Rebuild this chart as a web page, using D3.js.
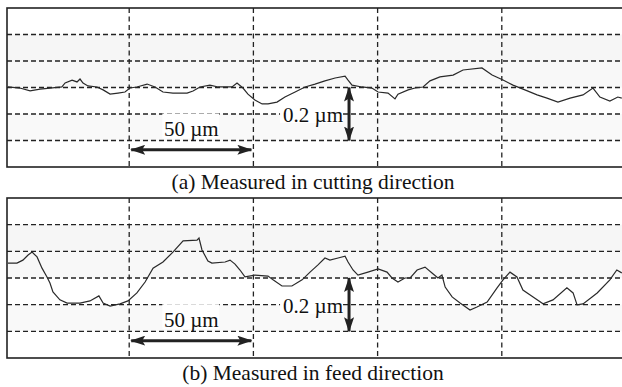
<!DOCTYPE html>
<html>
<head>
<meta charset="utf-8">
<script src="https://cdn.jsdelivr.net/npm/d3@7"></script>
</head>
<body style="margin:0">
<script>
// ---------- data (x in µm, height in µm) ----------
const xGrid = [50, 100, 150, 200];
const yGrid = [-0.2, -0.1, 0, 0.1, 0.2];
const captions = ["(a) Measured in cutting direction", "(b) Measured in feed direction"];
const scaleBarX = [50, 100];          // 50 µm bar
const scaleBarY = [-0.2, 0];          // 0.2 µm bar
const scaleBarYPos = 138.5;           // µm position of vertical bar
const labelX = "50 µm";
const labelY = "0.2 µm";

const cutX = [1.2, 6.0, 10.1, 14.1, 18.1, 22.9, 24.2, 27.0, 29.0, 30.2, 31.4, 33.4, 37.0, 39.5, 42.3, 45.5, 48.3, 50.3, 53.1, 57.2, 60.4, 63.6, 67.6, 73.3, 75.7, 78.5, 82.5, 85.8, 91.4, 93.4, 95.8, 97.8, 100.6, 103.5, 105.9, 109.5, 112.7, 116.8, 120.8, 124.8, 128.8, 132.9, 136.9, 138.1, 139.7, 143.7, 147.7, 150.2, 154.2, 157.0, 158.2, 162.3, 165.1, 168.3, 171.1, 175.1, 180.4, 184.4, 192.0, 196.1, 200.5, 204.5, 209.3, 214.2, 218.2, 222.6, 227.5, 232.7, 236.7, 239.5, 243.5, 246.7, 248.3];
const cutY = [0.002, -0.002, -0.013, -0.006, -0.002, 0.002, 0.017, 0.028, 0.021, 0.032, 0.017, 0.006, 0.002, -0.009, -0.025, -0.021, -0.017, -0.002, 0.002, 0.013, 0.002, -0.017, -0.021, -0.021, -0.013, 0.002, 0.009, 0.002, 0.002, 0.017, -0.002, -0.025, -0.047, -0.062, -0.062, -0.055, -0.036, -0.017, 0.002, 0.013, 0.025, 0.036, 0.043, 0.028, 0.009, 0.002, -0.002, -0.017, -0.021, -0.043, -0.025, -0.009, -0.002, 0.002, 0.025, 0.040, 0.047, 0.066, 0.074, 0.047, 0.028, 0.009, -0.009, -0.028, -0.040, -0.055, -0.040, -0.028, -0.002, -0.036, -0.051, -0.036, -0.040];

const feedX = [1.2, 4.8, 7.2, 9.3, 10.9, 12.9, 14.9, 16.9, 18.1, 19.3, 22.1, 25.0, 30.2, 34.2, 37.8, 39.5, 42.3, 46.3, 49.5, 53.1, 56.4, 59.6, 63.6, 67.6, 71.7, 77.3, 78.1, 79.3, 81.7, 83.3, 88.6, 90.6, 92.6, 94.6, 96.6, 100.6, 105.9, 107.9, 111.5, 115.5, 119.6, 122.8, 126.0, 128.8, 130.8, 134.1, 136.9, 138.1, 140.1, 142.1, 146.1, 150.2, 153.8, 155.8, 158.2, 161.0, 163.1, 165.9, 169.1, 171.9, 174.3, 175.9, 177.2, 180.0, 183.2, 187.2, 190.0, 194.1, 198.1, 200.5, 203.3, 206.1, 208.5, 212.6, 216.6, 220.6, 226.2, 228.7, 230.3, 232.7, 238.4, 243.5, 246.3, 248.3];
const feedY = [0.056, 0.056, 0.067, 0.086, 0.097, 0.079, 0.037, 0.004, -0.019, -0.052, -0.082, -0.094, -0.094, -0.086, -0.067, -0.094, -0.105, -0.097, -0.086, -0.056, -0.015, 0.037, 0.060, 0.097, 0.139, 0.142, 0.150, 0.105, 0.064, 0.056, 0.060, 0.067, 0.052, 0.030, 0.004, 0.011, 0.007, -0.007, -0.030, -0.030, -0.007, 0.022, 0.049, 0.075, 0.067, 0.075, 0.082, 0.060, 0.030, 0.011, 0.022, 0.034, 0.022, 0.000, -0.015, 0.000, 0.000, 0.030, 0.041, 0.019, 0.000, 0.011, -0.034, -0.071, -0.094, -0.120, -0.109, -0.090, -0.037, -0.007, 0.022, 0.004, -0.045, -0.071, -0.097, -0.082, -0.037, -0.056, -0.101, -0.097, -0.056, -0.007, 0.030, 0.019];

// ---------- layout ----------
const W = 622, H = 387;
const frameLeft = 7, frameRight = 640;
const panels = [
  { top: 8, bottom: 167, xs: cutX, ys: cutY, caption: captions[0], capY: 189 },
  { top: 198, bottom: 358, xs: feedX, ys: feedY, caption: captions[1], capY: 380 }
];

const svg = d3.select("body").append("svg").attr("width", W).attr("height", H)
  .attr("font-family", "Liberation Serif");
svg.append("rect").attr("width", W).attr("height", H).attr("fill", "#fff");

const defs = svg.append("defs");
defs.append("marker").attr("id", "ah")
  .attr("viewBox", "0 0 15 10").attr("refX", 14).attr("refY", 5)
  .attr("markerWidth", 15).attr("markerHeight", 10)
  .attr("markerUnits", "userSpaceOnUse").attr("orient", "auto-start-reverse")
  .append("path").attr("d", "M0,0 L15,5 L0,10 L3,5 Z").attr("fill", "#222");

const x = d3.scaleLinear().domain([0, 250]).range([5, 626]);

const texts = [];

panels.forEach((p, i) => {
  const y = d3.scaleLinear().domain([-0.3, 0.3]).range([p.bottom, p.top]);
  const g = svg.append("g");

  const bands = [[0.1, 0.2, "#f6f6f6"], [0, 0.1, "#f8f8f8"], [-0.2, -0.1, "#f9f9f9"]];
  g.selectAll("rect.band").data(bands).join("rect").attr("class", "band")
    .attr("x", frameLeft).attr("width", W - frameLeft)
    .attr("y", d => y(d[1])).attr("height", d => y(d[0]) - y(d[1]))
    .attr("fill", d => d[2]);

  g.selectAll("line.hg").data(yGrid).join("line").attr("class", "hg")
    .attr("x1", frameLeft).attr("x2", W)
    .attr("y1", d => y(d)).attr("y2", d => y(d))
    .attr("stroke", "#222").attr("stroke-width", 1.3).attr("stroke-dasharray", "5,3");

  g.selectAll("line.vg").data(xGrid).join("line").attr("class", "vg")
    .attr("x1", d => x(d)).attr("x2", d => x(d))
    .attr("y1", p.top).attr("y2", p.bottom)
    .attr("stroke", "#222").attr("stroke-width", 1.3).attr("stroke-dasharray", "5,3.5");

  const clipId = "clip" + i;
  defs.append("clipPath").attr("id", clipId).append("rect")
    .attr("x", frameLeft).attr("y", p.top).attr("width", W - frameLeft).attr("height", p.bottom - p.top);
  const pts = p.xs.map((v, k) => [v, p.ys[k]]);
  g.append("path").datum(pts)
    .attr("clip-path", `url(#${clipId})`)
    .attr("d", d3.line().x(d => x(d[0])).y(d => y(d[1])))
    .attr("fill", "none").attr("stroke", "#2a2a2a").attr("stroke-width", 1.2);

  g.append("rect").attr("x", frameLeft).attr("y", p.top)
    .attr("width", frameRight - frameLeft).attr("height", p.bottom - p.top)
    .attr("fill", "none").attr("stroke", "#222").attr("stroke-width", 1.6);

  const lx = x((scaleBarX[0] + scaleBarX[1]) / 2);
  g.append("rect").attr("x", lx - 29).attr("y", y(-0.1) - 0.5).attr("width", 57).attr("height", 25).attr("fill", "#fff");
  texts.push({ t: labelX, x: lx, y: y(-0.1) + 22, a: "middle", s: 21 });

  g.append("line")
    .attr("x1", x(scaleBarX[0]) + 2).attr("x2", x(scaleBarX[1]) - 2)
    .attr("y1", y(-0.235)).attr("y2", y(-0.235))
    .attr("stroke", "#222").attr("stroke-width", 3)
    .attr("marker-start", "url(#ah)").attr("marker-end", "url(#ah)");

  const vx = x(scaleBarYPos);
  g.append("rect").attr("x", vx - 69).attr("y", y(-0.1) - 11).attr("width", 63).attr("height", 20).attr("fill", "#fff");
  texts.push({ t: labelY, x: vx - 6, y: y(-0.1) + 8, a: "end", s: 21 });

  g.append("line")
    .attr("x1", vx).attr("x2", vx)
    .attr("y1", y(scaleBarY[1])).attr("y2", y(scaleBarY[0]))
    .attr("stroke", "#222").attr("stroke-width", 3)
    .attr("marker-start", "url(#ah)").attr("marker-end", "url(#ah)");

  texts.push({ t: p.caption, x: 313, y: p.capY, a: "middle", s: 21.5 });
});

svg.selectAll("text.lbl").data(texts).join("text").attr("class", "lbl")
  .attr("x", d => d.x).attr("y", d => d.y)
  .attr("text-anchor", d => d.a)
  .attr("font-family", "Liberation Serif")
  .style("font-family", '"Liberation Serif"')
  .style("font-size", d => d.s + "px")
  .attr("fill", "#111")
  .text(d => d.t);
</script>
</body>
</html>
